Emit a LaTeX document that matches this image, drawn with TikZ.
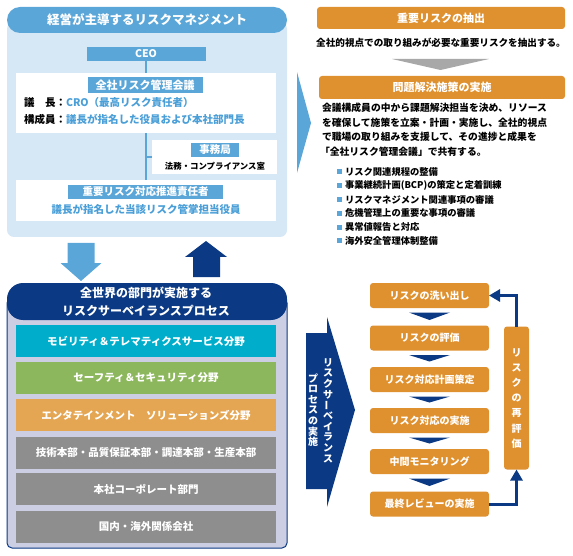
\documentclass[tikz,border=0pt]{standalone}
\usepackage{fontspec}
\usepackage{graphicx}
\setmainfont{Noto Sans CJK JP}
\usetikzlibrary{arrows.meta,calc}
\definecolor{midblue}{HTML}{5AA6D8}
\definecolor{lightbg}{HTML}{D6E7F5}
\definecolor{bluetext}{HTML}{4A9FD8}
\definecolor{navy}{HTML}{0B3983}
\definecolor{lav}{HTML}{CCCEE4}
\definecolor{org}{HTML}{E0912F}
\definecolor{cyanbar}{HTML}{00AECB}
\definecolor{greenbar}{HTML}{8DB75C}
\definecolor{orgbar}{HTML}{E5A653}
\definecolor{graybar}{HTML}{8E8E8E}
\definecolor{graytri}{HTML}{A8A8A8}
\newcommand{\fsz}[1]{\fontsize{#1}{#1}\selectfont}
\newcommand{\vbar}{\rotatebox[origin=c]{90}{ー}}
\begin{document}
\begin{tikzpicture}[x=1pt,y=-1pt,
  every node/.style={inner sep=0pt, outer sep=0pt},
  whitebox/.style={fill=white},
  bluelbl/.style={fill=midblue, text=white, font=\bfseries\fsz{11}},
  bar/.style={minimum width=260, minimum height=32, text=white, font=\bfseries\fsz{10.5}},
  proc/.style={fill=org, rounded corners=3, minimum width=119, minimum height=25, text=white, font=\bfseries\fsz{10}},
  hdr/.style={fill=org, rounded corners=3, text=white, font=\bfseries\fsz{11}},
  vch/.style={text=white, font=\bfseries\fsz{10}},
  para/.style={anchor=west, font=\bfseries\fsz{9.8}},
  bul/.style={anchor=west, font=\bfseries\fsz{9.3}},
  bulsq/.style={fill=midblue, minimum width=5, minimum height=5},
  conn/.style={draw=midblue, line width=2.5pt},
  loop/.style={draw=navy, line width=3pt, -{Triangle[length=11pt,width=12pt]}}
]
\useasboundingbox (0,0) rectangle (573,556);

% ===== top-left panel =====
\node[fill=lightbg, rounded corners=7, minimum width=280, minimum height=215, anchor=north west] (tlbg) at (7,22) {};
\node[fill=midblue, rounded corners=13, minimum width=280, minimum height=26, anchor=north west,
      text=white, font=\bfseries\fsz{12.5}] (tltitle) at (7,7) {経営が主導するリスクマネジメント};

\node[fill=midblue, minimum width=119, minimum height=14, text=white, font=\bfseries\fsz{10.5}] (ceo) at (146,54) {CEO};

\node[whitebox, minimum width=260, minimum height=60] (box1) at (146,103) {};
\node[bluelbl, minimum width=115, minimum height=16] (lbl1) at (145,85) {全社リスク管理会議};
\node[anchor=west, font=\bfseries\fsz{10.5}] (chair) at (24,103) {議　長：\textcolor{bluetext}{CRO（最高リスク責任者）}};
\node[anchor=west, font=\bfseries\fsz{10.5}] (members) at (24,119) {構成員：\textcolor{bluetext}{議長が指名した役員および本社部門長}};

\node[whitebox, minimum width=125, minimum height=34] (box2) at (214.5,157) {};
\node[bluelbl, minimum width=48, minimum height=14, font=\bfseries\fsz{10.5}] (lbl2) at (215,150) {事務局};
\node[font=\bfseries\fsz{8.4}] (legal) at (215,166) {法務・コンプライアンス室};

\node[whitebox, minimum width=260, minimum height=41] (box3) at (146,200.5) {};
\node[bluelbl, minimum width=155, minimum height=14, font=\bfseries\fsz{10.5}] (lbl3) at (145.5,192) {重要リスク対応推進責任者};
\node[text=bluetext, font=\bfseries\fsz{10.5}] (resp) at (146,209) {議長が指名した当該リスク管掌担当役員};

\draw[conn] (ceo.south) -- (box1.north);
\draw[conn] (box1.south) -- (box3.north);
\draw[conn] (box2.west) -- (box2.west -| box1.south);

% ===== block arrows between left panels =====
\fill[midblue] (67.5,243) -- (94.5,243) -- (94.5,263) -- (101.5,263) -- (81,281) -- (60.5,263) -- (67.5,263) -- cycle;
\fill[navy] (193,277) -- (220,277) -- (220,257) -- (227,257) -- (206,241) -- (185,257) -- (193,257) -- cycle;

% ===== bottom-left panel =====
\node[fill=lav, draw=navy, line width=1pt, rounded corners=5, minimum width=280, minimum height=250, anchor=north west] (blbg) at (7,298) {};
\node[fill=navy, rounded corners=16, minimum width=280, minimum height=37, anchor=north west] (bltitle) at (7,283) {};
\node[text=white, align=center, font=\bfseries\fontsize{12}{18}\selectfont] (bltitletext) at (146,301.5) {全世界の部門が実施する\\リスクサーベイランスプロセス};

\node[bar, fill=cyanbar] (bar1) at (146,341) {モビリティ＆テレマティクスサービス分野};
\node[bar, fill=greenbar] (bar2) at (146,378) {セーフティ＆セキュリティ分野};
\node[bar, fill=orgbar] (bar3) at (146,415) {エンタテインメント　ソリューションズ分野};
\node[bar, fill=graybar] (bar4) at (146,452.5) {技術本部・品質保証本部・調達本部・生産本部};
\node[bar, fill=graybar] (bar5) at (146,489) {本社コーポレート部門};
\node[bar, fill=graybar] (bar6) at (146,526.5) {国内・海外関係会社};

% ===== top-right =====
\fill[midblue] (297,72) -- (311,123) -- (297,173) -- cycle;

\node[hdr, minimum width=248, minimum height=22] (hdr1) at (441,18) {重要リスクの抽出};
\node[font=\bfseries\fsz{9.6}] (hdr1text) at (441,43) {全社的視点での取り組みが必要な重要リスクを抽出する。};
\fill[graytri] (392,59) -- (489,59) -- (440.5,70) -- cycle;
\node[hdr, minimum width=246, minimum height=23] (hdr2) at (442,87.5) {問題解決施策の実施};

\node[para] (p2a) at (322,108) {会議構成員の中から課題解決担当を決め、リソース};
\node[para] (p2b) at (322,122.5) {を確保して施策を立案・計画・実施し、全社的視点};
\node[para] (p2c) at (322,137) {で職場の取り組みを支援して、その進捗と成果を};
\node[para] (p2d) at (320,151.5) {「全社リスク管理会議」で共有する。};

\foreach \t [count=\i] in {リスク関連規程の整備,事業継続計画(BCP)の策定と定着訓練,リスクマネジメント関連事項の審議,危機管理上の重要な事項の審議,異常値報告と対応,海外安全管理体制整備}{
  \node[bulsq] (sq\i) at (339.5,{172+(\i-1)*13.8}) {};
  \node[bul] (bt\i) at (345,{172+(\i-1)*13.8}) {\t};
}

% ===== bottom-right =====
\fill[navy] (306,333) -- (327,333) -- (327,317) -- (355,410) -- (327,507) -- (327,489) -- (306,489) -- cycle;
\foreach \c [count=\i] in {リ,ス,ク,サ,\vbar,ベ,イ,ラ,ン,ス}{
  \node[vch] (va\i) at (328,{362.4+(\i-1)*10.7}) {\c};
}
\foreach \c [count=\i] in {プ,ロ,セ,ス,の,実,施}{
  \node[vch] (vb\i) at (313,{378.3+(\i-1)*10.6}) {\c};
}

\node[proc] (s1) at (429.5,295.5) {リスクの洗い出し};
\node[proc] (s2) at (429.5,338) {リスクの評価};
\node[proc] (s3) at (429.5,379.5) {リスク対応計画策定};
\node[proc] (s4) at (429.5,420.5) {リスク対応の実施};
\node[proc] (s5) at (429.5,461.5) {中間モニタリング};
\node[proc] (s6) at (429.5,504) {最終レビューの実施};

\foreach \a/\b in {s1/s2,s2/s3,s3/s4,s4/s5,s5/s6}{
  \fill[navy] ($(\a.south)+(-20.5,4.5)$) -- ($(\a.south)+(20.5,4.5)$) -- ($(\b.north)+(0,-5.5)$) -- cycle;
}

\node[fill=org, rounded corners=3, minimum width=25, minimum height=143] (re) at (516.5,398) {};
\foreach \c [count=\i] in {リ,ス,ク,の,再,評,価}{
  \node[vch] (rc\i) at (516.5,{352.5+(\i-1)*15.2}) {\c};
}

\draw[loop] (re.north) |- (s1.east);
\draw[loop] (s6.east) -| (re.south);
\end{tikzpicture}
\end{document}
